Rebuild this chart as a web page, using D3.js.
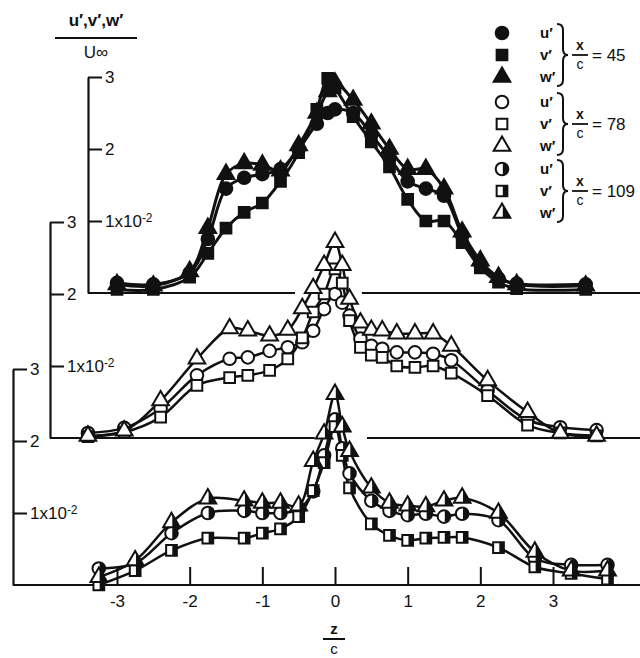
<!DOCTYPE html>
<html>
<head>
<meta charset="utf-8">
<script src="https://cdn.jsdelivr.net/npm/d3@7"></script>
<style>
body { margin: 0; background: #fff; }
text { font-family: "Liberation Sans", Arial, sans-serif; fill: #111; }
</style>
</head>
<body>
<div id="chart"></div>
<script>
// x/c = 45 (filled symbols)
var z45 = [-3.0, -2.5, -2.0, -1.75, -1.5, -1.25, -1.0, -0.75, -0.5, -0.25, -0.1, 0, 0.25, 0.5, 0.75, 1.0, 1.25, 1.5, 1.75, 2.0, 2.25, 2.5, 3.45];
var u45 = [0.14, 0.12, 0.28, 0.75, 1.45, 1.6, 1.65, 1.72, 2.0, 2.35, 2.5, 2.55, 2.5, 2.2, 1.88, 1.55, 1.45, 1.35, 0.8, 0.4, 0.2, 0.13, 0.12];
var v45 = [0.05, 0.05, 0.22, 0.55, 0.9, 1.12, 1.25, 1.55, 1.95, 2.55, 2.98, 2.85, 2.45, 2.1, 1.75, 1.3, 1.0, 1.0, 0.7, 0.35, 0.15, 0.06, 0.05];
var w45 = [0.12, 0.1, 0.3, 0.9, 1.65, 1.8, 1.78, 1.7, 2.05, 2.5, 2.8, 2.92, 2.68, 2.35, 2.0, 1.72, 1.72, 1.45, 0.85, 0.45, 0.22, 0.12, 0.1];

// x/c = 78 (open symbols)
var z78 = [-3.4, -2.9, -2.4, -1.9, -1.45, -1.2, -0.9, -0.65, -0.45, -0.3, -0.15, 0, 0.1, 0.2, 0.35, 0.5, 0.65, 0.85, 1.1, 1.35, 1.6, 2.1, 2.65, 3.1, 3.6];
var u78 = [0.07, 0.14, 0.41, 0.87, 1.1, 1.12, 1.21, 1.26, 1.33, 1.49, 1.79, 2.0, 1.88, 1.7, 1.38, 1.28, 1.24, 1.19, 1.19, 1.17, 1.08, 0.66, 0.25, 0.15, 0.11];
var v78 = [0.02, 0.08, 0.29, 0.73, 0.84, 0.87, 0.94, 1.1, 1.39, 1.75, 2.0, 2.35, 2.15, 1.63, 1.26, 1.15, 1.12, 1.0, 0.98, 1.0, 0.9, 0.59, 0.18, 0.07, 0.03];
var w78 = [0.03, 0.1, 0.52, 1.1, 1.52, 1.49, 1.42, 1.5, 1.8, 2.08, 2.4, 2.72, 2.4, 1.93, 1.6, 1.5, 1.49, 1.45, 1.45, 1.45, 1.28, 0.8, 0.36, 0.07, 0.03];

// x/c = 109 (half filled symbols)
var z109 = [-3.25, -2.75, -2.25, -1.75, -1.25, -1.0, -0.75, -0.5, -0.3, -0.15, 0, 0.1, 0.2, 0.5, 0.75, 1.0, 1.25, 1.5, 1.75, 2.25, 2.75, 3.25, 3.75];
var u109 = [0.23, 0.3, 0.72, 1.0, 1.03, 1.0, 1.0, 1.05, 1.3, 1.8, 2.3, 1.9, 1.55, 1.17, 1.03, 0.97, 0.99, 0.95, 0.99, 0.9, 0.37, 0.28, 0.28];
var v109 = [0.0, 0.2, 0.48, 0.65, 0.65, 0.72, 0.78, 0.95, 1.31, 1.7, 2.2, 1.8, 1.35, 0.85, 0.69, 0.62, 0.65, 0.66, 0.66, 0.52, 0.25, 0.16, 0.08];
var w109 = [0.11, 0.34, 0.87, 1.2, 1.17, 1.14, 1.14, 1.1, 1.72, 2.1, 2.65, 2.2, 1.86, 1.35, 1.14, 1.1, 1.09, 1.17, 1.21, 1.0, 0.46, 0.2, 0.2];

var zTicks = [-3, -2, -1, 0, 1, 2, 3];
var yTicks = [1, 2, 3];
var components = ["u\u2032", "v\u2032", "w\u2032"];
var stations = ["45", "78", "109"];

drawChart()

function drawChart() {
	var svg = d3.select("#chart")
		.append("svg")
		.attr("width", 640)
		.attr("height", 658);

	var defs = svg.append("defs");
	// right half clip, used in marker-local coordinates
	defs.append("clipPath")
		.attr("id", "halfclip")
		.append("rect")
		.attr("x", 0.8).attr("y", -12).attr("width", 12).attr("height", 24);

	var x = d3.scaleLinear().domain([-3, 3]).range([117, 553]);

	var panels = [
		{ z: z45, s: [u45, v45, w45], base: 293, axisX: 88, fill: "full", gap: [-0.55, 0.37] },
		{ z: z78, s: [u78, v78, w78], base: 438, axisX: 50, fill: "open", gap: [-0.28, 0.44] },
		{ z: z109, s: [u109, v109, w109], base: 585, axisX: 13, fill: "half", gap: null }
	];
	var shapes = [d3.symbolCircle, d3.symbolSquare, d3.symbolTriangle];
	var sizes = [125, 115, 120];

	// baselines and y axes
	panels.forEach(function(p) {
		p.y = d3.scaleLinear().domain([0, 3]).range([p.base, p.base - 216]);
		var segs = p.gap ? [[p.axisX, x(p.gap[0])], [x(p.gap[1]), 640]] : [[p.axisX, 640]];
		segs.forEach(function(s) {
			svg.append("line")
				.attr("x1", s[0]).attr("x2", s[1])
				.attr("y1", p.base).attr("y2", p.base)
				.attr("stroke", "#111").attr("stroke-width", 2.2);
		});

		var ax = svg.append("g")
			.attr("transform", `translate(${p.axisX},0)`)
			.call(d3.axisRight(p.y).tickValues(yTicks).tickSize(14).tickSizeOuter(0).tickPadding(3)
				.tickFormat(d3.format("d")));
		ax.select(".domain").attr("stroke", "#111").attr("stroke-width", 2.2);
		ax.selectAll(".tick line").attr("stroke", "#111").attr("stroke-width", 2);
		ax.selectAll(".tick text")
			.style("font-size", "17px")
			.attr("fill", "#111")
			.each(function(d) {
				if (d == 1) {
					var t = d3.select(this).text("1x10");
					t.append("tspan").attr("dy", "-0.45em").style("font-size", "12px").text("-2");
				}
			});
	});

	// z axis ticks on the lowest panel
	var xa = svg.append("g")
		.attr("transform", `translate(0,${panels[2].base})`)
		.call(d3.axisBottom(x).tickValues(zTicks).tickSize(-18).tickPadding(10)
			.tickFormat(function(d) { return d < 0 ? "-" + (-d) : d; }));
	xa.select(".domain").remove();
	xa.selectAll(".tick line").attr("stroke", "#111").attr("stroke-width", 2);
	xa.selectAll(".tick text").style("font-size", "17px").attr("fill", "#111");

	// curves and symbols
	var line = d3.line()
		.x(function(d) { return x(d.z); })
		.y(function(d) { return d.py; })
		.curve(d3.curveCatmullRom.alpha(0.5));

	panels.slice().reverse().forEach(function(p) {
		var g = svg.append("g");
		p.s.forEach(function(vals, k) {
			var pts = p.z.map(function(z, i) { return { z: z, py: p.y(vals[i]) }; });
			g.append("path")
				.attr("d", line(pts))
				.attr("fill", "none")
				.attr("stroke", "#111")
				.attr("stroke-width", p.fill == "full" ? 3 : 2.5);
		});
		p.s.forEach(function(vals, k) {
			var pts = p.z.map(function(z, i) { return { z: z, py: p.y(vals[i]) }; });
			var m = g.selectAll(".m" + k)
				.data(pts)
				.join("g")
				.attr("transform", function(d) { return `translate(${x(d.z)},${d.py})`; });
			drawMarker(m, shapes[k], sizes[k], p.fill);
		});
	});

	// y label
	var yl = svg.append("g").attr("transform", "translate(96,0)");
	yl.append("text").attr("x", 0).attr("y", 26).attr("text-anchor", "middle")
		.style("font-size", "17px").style("font-weight", "bold").text("u\u2032,v\u2032,w\u2032");
	yl.append("line").attr("x1", -41).attr("x2", 41).attr("y1", 38).attr("y2", 38)
		.attr("stroke", "#111").attr("stroke-width", 2);
	yl.append("text").attr("x", 0).attr("y", 58).attr("text-anchor", "middle")
		.style("font-size", "17px").text("U\u221E");

	// z/c label
	var xl = svg.append("g").attr("transform", "translate(334,0)");
	xl.append("text").attr("x", 0).attr("y", 634).attr("text-anchor", "middle")
		.style("font-size", "15px").style("font-weight", "bold").text("z");
	xl.append("line").attr("x1", -11).attr("x2", 11).attr("y1", 639).attr("y2", 639)
		.attr("stroke", "#111").attr("stroke-width", 2);
	xl.append("text").attr("x", 0).attr("y", 654).attr("text-anchor", "middle")
		.style("font-size", "15px").text("c");

	// legend
	var fills = ["full", "open", "half"];
	var groupTop = [33, 102, 169];
	stations.forEach(function(st, gi) {
		var lg = svg.append("g").attr("transform", `translate(0,${groupTop[gi]})`);
		components.forEach(function(c, k) {
			var m = lg.append("g").attr("transform", `translate(502,${k * 22})`);
			drawMarker(m, shapes[k], sizes[k], fills[gi]);
			lg.append("text").attr("x", 540).attr("y", k * 22 + 5)
				.style("font-size", "15px").style("font-weight", "bold").text(c);
		});
		// brace
		lg.append("path")
			.attr("d", "M557,-9 Q563,-9 563,-3 L563,16 Q563,22 568,22 Q563,22 563,28 L563,47 Q563,53 557,53")
			.attr("fill", "none").attr("stroke", "#111").attr("stroke-width", 2);
		lg.append("text").attr("x", 580).attr("y", 17).attr("text-anchor", "middle")
			.style("font-size", "14px").style("font-weight", "bold").text("x");
		lg.append("line").attr("x1", 572).attr("x2", 588).attr("y1", 22).attr("y2", 22)
			.attr("stroke", "#111").attr("stroke-width", 1.8);
		lg.append("text").attr("x", 580).attr("y", 36).attr("text-anchor", "middle")
			.style("font-size", "14px").text("c");
		lg.append("text").attr("x", 592).attr("y", 28)
			.style("font-size", "17px").text("= " + st);
	});
}

function drawMarker(sel, shape, size, fill) {
	var sym = d3.symbol().type(shape).size(size);
	sel.append("path")
		.attr("d", sym)
		.attr("fill", fill == "full" ? "#111" : "#fff")
		.attr("stroke", "#111")
		.attr("stroke-width", 2);
	if (fill == "half") {
		sel.append("path")
			.attr("d", sym)
			.attr("fill", "#111")
			.attr("clip-path", "url(#halfclip)");
	}
}
</script>
</body>
</html>
